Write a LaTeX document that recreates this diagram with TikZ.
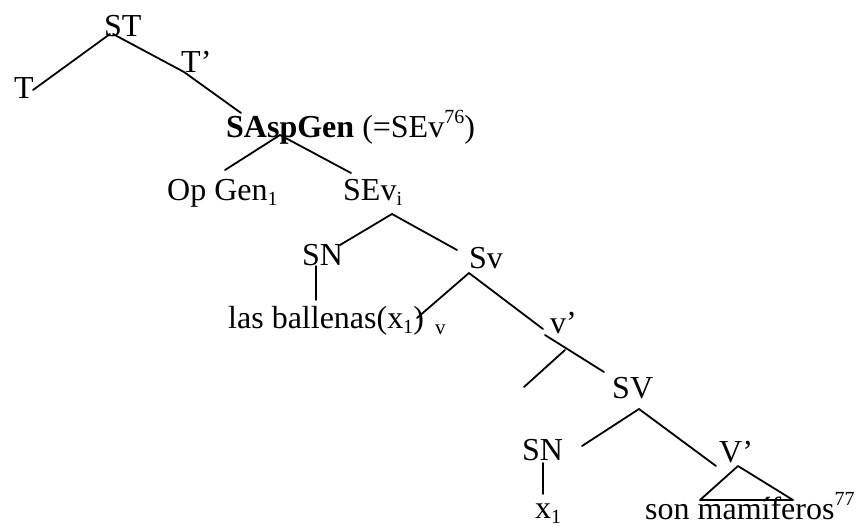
\documentclass[tikz,border=0pt]{standalone}
\usepackage{fontspec}
\setmainfont{Liberation Serif}
\usetikzlibrary{positioning}

% raised and lowered indices in the tree font
\newcommand{\treeup}[1]{\raisebox{0.42em}{\fontsize{20}{20}\selectfont #1}}
\newcommand{\treedown}[1]{\raisebox{-0.18em}{\fontsize{20}{20}\selectfont #1}}

\begin{document}
\begin{tikzpicture}[
		x=1pt, y=-1pt,
		% --- Styles ---
		lbl/.style={inner sep=0pt, anchor=base west, font=\fontsize{32}{36}\selectfont},
		tinylbl/.style={inner sep=0pt, anchor=base west, font=\fontsize{21}{22}\selectfont},
		branch/.style={draw, line width=1.8pt, line cap=round, line join=round}
	]
	\useasboundingbox (0,0) rectangle (859,527);

	% --- Labels ---
	\node [lbl] (st) at (104,37) {ST};
	\node [lbl] (t) at (14,99) {T};
	\node [lbl] (tbar) at (181,72) {T’};
	\node [lbl] (aspgen) at (226,137) {\textbf{SAspGen} (=SEv\treeup{76})};
	\node [lbl] (opgen) at (167,200) {Op Gen\treedown{1}};
	\node [lbl] (sevi) at (343,200) {SEv\treedown{i}};
	\node [lbl] (sn1) at (302,265) {SN};
	\node [lbl] (sv1) at (469,268) {Sv};
	\node [lbl] (ballenas) at (228,328) {las ballenas(x\treedown{1})};
	\node [tinylbl] (vsmall) at (435,334) {v};
	\node [lbl] (vbar) at (550,333) {v’};
	\node [lbl] (sv2) at (612,398) {SV};
	\node [lbl] (sn2) at (522,460) {SN};
	\node [lbl] (Vbar) at (719,462) {V’};
	\node [lbl] (xone) at (535,518) {x\treedown{1}};
	\node [lbl] (pred) at (645,519) {son mamíferos\treeup{77}};

	% --- Branch points ---
	\coordinate (st-l) at (110,34);
	\coordinate (st-r) at (113,34);
	\coordinate (tbar-p) at (184,72);
	\coordinate (asp-p) at (280,135);
	\coordinate (sevi-p) at (392,214);
	\coordinate (sv1-p) at (469,273);
	\coordinate (vbar-p) at (545,335);
	\coordinate (vbar-m) at (565,350);
	\coordinate (vbar-e) at (524,387);
	\coordinate (sv2-p) at (639,409);

	% --- Branches ---
	\draw [branch] (st-l) -- (33,90);
	\draw [branch] (st-r) -- (tbar-p) -- (241,113);
	\draw [branch] (asp-p) -- (225,170);
	\draw [branch] (asp-p) -- (351,173);
	\draw [branch] (sevi-p) -- (340,245);
	\draw [branch] (sevi-p) -- (457,250);
	\draw [branch] (316,266) -- (316,300);
	\draw [branch] (sv1-p) -- (417,318);
	\draw [branch] (sv1-p) -- (543,329);
	\draw [branch] (vbar-p) -- (604,372);
	\draw [branch] (vbar-m) -- (vbar-e);
	\draw [branch] (sv2-p) -- (582,446);
	\draw [branch] (sv2-p) -- (716,466);
	\draw [branch] (543,463) -- (543,494);
	\draw [branch] (738,466) -- (700,500) -- (793,500) -- cycle;
\end{tikzpicture}
\end{document}
